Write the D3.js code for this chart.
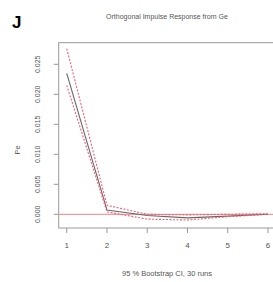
<!DOCTYPE html>
<head>
  <meta charset="utf-8">
  <script src="https://d3js.org/d3.v7.min.js"></script>
  <style>
    body { margin:0; background:white; }
    text { font-family: 'Liberation Sans', Arial, sans-serif; fill: #555; }
  </style>
</head>
<body>
  <script>
  // impulse response values
  const steps = [1, 2, 3, 4, 5, 6];
  const irf   = [0.0235, 0.0007, -0.0002, -0.0006, -0.0003, 0.0000];
  const upper = [0.0276, 0.0015, 0.0000, -0.0001, 0.0000, 0.0001];
  const lower = [0.0215, 0.0004, -0.0008, -0.00095, -0.0004, 0.0000];
  const yTicks = [0, 0.005, 0.010, 0.015, 0.020, 0.025];

  const W = 273, H = 282;
  const svg = d3.select('body').append('svg')
      .attr('width', W).attr('height', H);

  const x = d3.scaleLinear().domain([0.8, 6.2]).range([58.7, 276]);
  const y = d3.scaleLinear().domain([0, 0.025]).range([214.3, 64.3]);
  const yTop = 42.7, yBot = 228;

  // plot box
  svg.append('rect')
    .attr('x', x(0.8)).attr('y', yTop)
    .attr('width', x(6.2) - x(0.8)).attr('height', yBot - yTop)
    .attr('fill', 'none').attr('stroke', '#999').attr('stroke-width', 1);

  // y axis ticks + rotated labels
  const yAx = svg.append('g');
  yTicks.forEach(t => {
    yAx.append('line')
      .attr('x1', x(0.8) - 5).attr('x2', x(0.8))
      .attr('y1', y(t)).attr('y2', y(t))
      .attr('stroke', '#999');
    yAx.append('text')
      .attr('transform', `translate(40, ${y(t)}) rotate(-90)`)
      .attr('text-anchor', 'middle')
      .style('font-size', '7px')
      .text(d3.format('.3f')(t));
  });

  // x axis ticks
  const xAx = svg.append('g');
  steps.forEach(s => {
    xAx.append('line')
      .attr('x1', x(s)).attr('x2', x(s))
      .attr('y1', yBot).attr('y2', yBot + 5)
      .attr('stroke', '#999');
    xAx.append('text')
      .attr('x', x(s)).attr('y', 248)
      .attr('text-anchor', 'middle')
      .style('font-size', '8px')
      .text(s);
  });

  // zero reference line
  svg.append('line')
    .attr('x1', x(0.8)).attr('x2', x(6.2))
    .attr('y1', y(0)).attr('y2', y(0))
    .attr('stroke', '#f49a9a').attr('stroke-width', 1.2);

  const line = d3.line().x((d, i) => x(steps[i])).y(d => y(d));

  svg.append('path').datum(irf)
    .attr('d', line).attr('fill', 'none')
    .attr('stroke', '#666').attr('stroke-width', 1.1);

  [upper, lower].forEach(s => {
    svg.append('path').datum(s)
      .attr('d', line).attr('fill', 'none')
      .attr('stroke', '#ee5f76').attr('stroke-width', 1.1)
      .attr('stroke-dasharray', '2,1.5');
  });

  // titles
  svg.append('text')
    .attr('x', 167).attr('y', 19)
    .attr('text-anchor', 'middle')
    .style('font-size', '7px')
    .text('Orthogonal Impulse Response from Ge');

  svg.append('text')
    .attr('x', 167).attr('y', 276)
    .attr('text-anchor', 'middle')
    .style('font-size', '7.5px')
    .text('95 % Bootstrap CI,  30 runs');

  svg.append('text')
    .attr('transform', 'translate(20, 150) rotate(-90)')
    .attr('text-anchor', 'middle')
    .style('font-size', '7.5px')
    .text('Pe');

  svg.append('text')
    .attr('x', 12).attr('y', 28)
    .style('font-size', '17px').style('font-weight', 'bold')
    .style('fill', '#000')
    .text('J');
  </script>
</body>
